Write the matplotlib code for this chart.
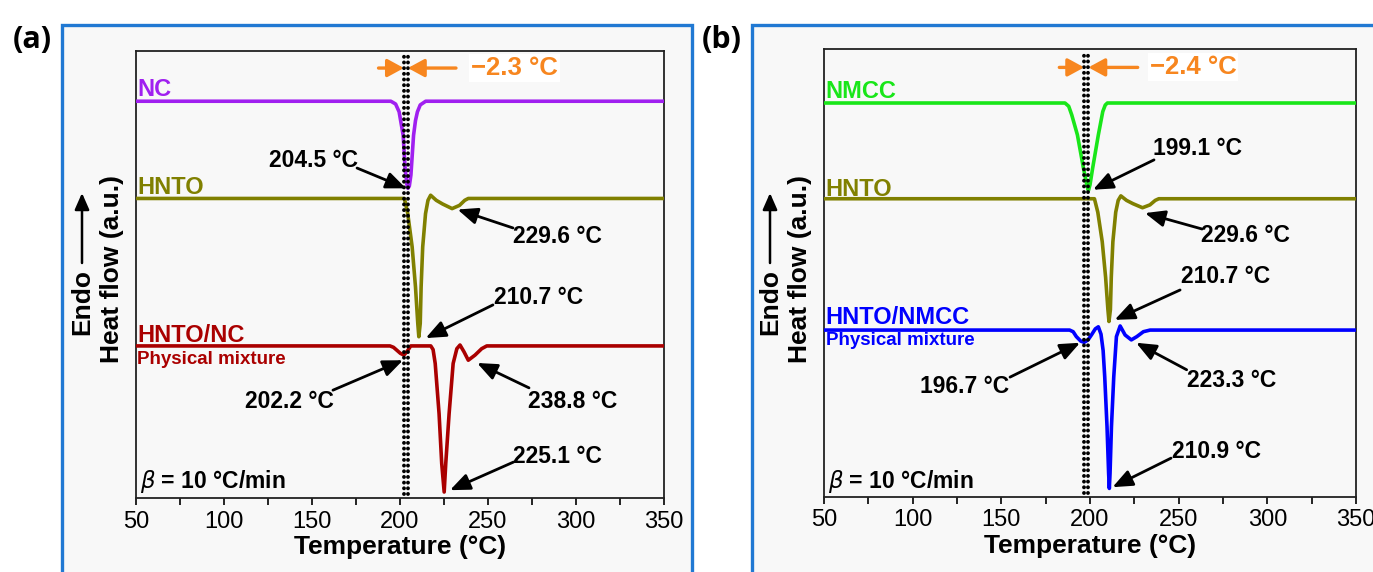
import matplotlib
matplotlib.use("Agg")
import matplotlib.pyplot as plt
from matplotlib import font_manager
from matplotlib.patches import Rectangle

# DSC traces, heat flow relative to each baseline (a.u.)
hnto_T = [50, 202.5, 204.4, 206.9, 208.8, 210.1, 210.7, 211.5, 212.0, 212.9, 214.5,
          215.9, 217.4, 220.6, 224.2, 229.6, 233.8, 236.8, 238.8, 350]
hnto_q = [0, 0, -0.33, -1.05, -1.92, -2.71, -3.0, -2.71, -1.92, -1.05, -0.33,
          -0.04, 0.07, -0.04, -0.12, -0.22, -0.15, -0.04, 0, 0]

nc_T = [50, 194.8, 197.5, 199.5, 201.8, 202.9, 203.9, 204.5, 205.3, 206.2, 206.9,
        207.7, 208.8, 209.9, 211.5, 214.6, 350]
nc_q = [0, 0, -0.06, -0.23, -0.74, -1.46, -1.80, -1.89, -1.84, -1.60, -1.20,
        -0.74, -0.42, -0.23, -0.08, 0, 0]

mix_nc_T = [50, 194.3, 196.3, 198.1, 200.2, 202.2, 204.2, 206.1, 217.5, 218.8, 220.0,
            222.2, 223.7, 225.1, 226.0, 227.9, 230.2, 232.3, 234.1, 236.4, 238.8,
            242.6, 246.4, 249.3, 350]
mix_nc_q = [0, 0, -0.03, -0.09, -0.16, -0.20, -0.11, 0, 0, -0.08, -0.38,
            -1.47, -2.55, -3.17, -2.55, -1.47, -0.38, -0.06, 0.02, -0.13, -0.31,
            -0.20, -0.06, 0, 0]

nmcc_T = [50, 185.9, 188.0, 189.7, 192.9, 196.3, 198.2, 199.1, 200.0, 201.5, 204.7,
          207.2, 208.6, 209.8, 350]
nmcc_q = [0, 0, -0.08, -0.29, -0.78, -1.59, -2.0, -2.14, -2.0, -1.59, -0.78,
          -0.21, -0.05, 0, 0]

mix_nmcc_T = [50, 188.5, 190.5, 192.3, 194.8, 196.7, 198.9, 200.8, 203.0, 204.7, 206.2,
              207.4, 208.3, 209.6, 210.5, 210.9, 211.3, 212.1, 213.4, 214.9, 217.0,
              219.8, 223.3, 226.4, 230.1, 233.9, 350]
mix_nmcc_q = [0, 0, -0.04, -0.16, -0.27, -0.30, -0.24, -0.12, 0.03, 0.08, -0.10,
              -0.5, -1.14, -2.36, -3.5, -3.87, -3.5, -2.36, -1.14, -0.16, 0.10,
              -0.12, -0.24, -0.16, -0.04, 0, 0]

# labelled peak temperatures (deg C)
peaks_a = [204.5, 229.6, 210.7, 202.2, 238.8, 225.1]
peaks_b = [199.1, 229.6, 210.7, 196.7, 223.3, 210.9]

xticks = [50, 100, 150, 200, 250, 300, 350]

purple = "#a020f0"
olive = "#808000"
darkred = "#aa0000"
green = "#19e619"
blue = "#0000ff"
orange = "#f7861f"
frame_blue = "#2179d3"

names = {f.name for f in font_manager.fontManager.ttflist}
narrow = "Liberation Sans Narrow" if "Liberation Sans Narrow" in names else "Liberation Sans"
plt.rcParams["font.family"] = ["Liberation Sans", "DejaVu Sans"]

W, H = 1373, 572
fig = plt.figure(figsize=(W / 100, H / 100), dpi=100)
fig.patch.set_facecolor("white")

# blue panel frames
for x0, x1 in [(62, 692), (752, 1390)]:
    fig.patches.append(Rectangle((x0 / W, -0.05), (x1 - x0) / W, 1.05 - 25 / H,
                                 transform=fig.transFigure, facecolor="#f8f8f8",
                                 edgecolor=frame_blue, lw=2.4, zorder=-5))

ax_a = fig.add_axes([136 / W, 1 - 498 / H, 528 / W, 447 / H])
ax_b = fig.add_axes([824 / W, 1 - 497 / H, 532 / W, 448 / H])

arrow_kw = dict(arrowstyle="-|>,head_length=0.6,head_width=0.25", lw=2.0,
                color="black", mutation_scale=20, shrinkA=0, shrinkB=0)
orange_kw = dict(arrowstyle="-|>,head_length=0.55,head_width=0.3", lw=2.4,
                 color=orange, mutation_scale=18, shrinkA=0, shrinkB=0)
note_font = dict(fontsize=16.5, fontweight="bold", ha="center", va="center")


def setup(ax, ymax):
    ax.set_xlim(50, 350)
    ax.set_ylim(0, ymax)
    ax.set_facecolor("none")
    ax.set_yticks([])
    ax.set_xticks(xticks)
    ax.set_xticks(range(75, 350, 50), minor=True)
    ax.tick_params(axis="x", which="both", direction="out", length=5, width=1.2,
                   labelsize=17, pad=4)
    for lab in ax.get_xticklabels():
        lab.set_family(narrow)
    for sp in ax.spines.values():
        sp.set_linewidth(1.3)
        sp.set_color("#222222")
    ax.set_xlabel("Temperature (\u00b0C)", fontsize=19, fontweight="bold", labelpad=2)


def dotted(ax, t):
    ax.axvline(t, ymin=0.01, ymax=0.995, color="black", lw=2.8, dashes=(0.01, 1.45),
               dash_capstyle="round", zorder=5)


def shift_marker(ax, t_lo, t_hi, y, t_left, t_right, t_text):
    ax.annotate("", xy=(t_lo, y), xytext=(t_left, y), arrowprops=orange_kw, zorder=6)
    ax.annotate("", xy=(t_hi, y), xytext=(t_right, y), arrowprops=orange_kw, zorder=6)
    ax.text(t_text, y, "\u2212" + f"{t_hi - t_lo:.1f} \u00b0C", color=orange,
            fontsize=18.5, fontweight="bold", family=narrow, ha="left", va="center",
            bbox=dict(facecolor="white", edgecolor="none", pad=1.5))


def note(ax, peak, text_xy, tail, tip):
    ax.text(text_xy[0], text_xy[1], f"{peak} \u00b0C", family=narrow, **note_font)
    ax.annotate("", xy=tip, xytext=tail, arrowprops=arrow_kw, zorder=7)


def trace(ax, T, q, base, color):
    ax.plot(T, [base + v for v in q], color=color, lw=2.6, solid_joinstyle="round",
            zorder=3)


# ---- panel (a) ----
setup(ax_a, 9.70)
trace(ax_a, nc_T, nc_q, 8.61, purple)
trace(ax_a, hnto_T, hnto_q, 6.50, olive)
trace(ax_a, mix_nc_T, mix_nc_q, 3.30, darkred)
dotted(ax_a, peaks_a[3])
dotted(ax_a, peaks_a[0])
shift_marker(ax_a, peaks_a[3], peaks_a[0], 9.33, 187.8, 231.8, 240.3)

lab = dict(fontsize=17, fontweight="bold", family=narrow, ha="left", va="baseline")
ax_a.text(50.6, 8.72, "NC", color=purple, **lab)
ax_a.text(50.6, 6.59, "HNTO", color=olive, **lab)
ax_a.text(50.6, 3.38, "HNTO/NC", color=darkred, **lab)
ax_a.text(50.6, 3.19, "Physical mixture", color=darkred, fontsize=13.5,
          fontweight="bold", family=narrow, ha="left", va="top")
ax_a.text(52.3, 0.22, r"$\beta$" + " = 10 \u00b0C/min", fontsize=16.5,
          fontweight="bold", family=narrow, ha="left", va="baseline")

note(ax_a, peaks_a[0], (150.9, 7.33), (175.6, 7.16), (203.4, 6.72))
note(ax_a, peaks_a[1], (289.2, 5.68), (264.2, 5.86), (232.7, 6.26))
note(ax_a, peaks_a[2], (279.0, 4.36), (252.8, 4.19), (214.6, 3.47))
note(ax_a, peaks_a[3], (136.9, 2.10), (161.9, 2.34), (201.7, 2.99))
note(ax_a, peaks_a[4], (298.3, 2.10), (273.3, 2.39), (243.8, 2.93))
note(ax_a, peaks_a[5], (289.2, 0.91), (264.5, 0.78), (228.4, 0.17))

# ---- panel (b) ----
setup(ax_b, 10.95)
trace(ax_b, nmcc_T, nmcc_q, 9.63, green)
trace(ax_b, hnto_T, hnto_q, 7.29, olive)
trace(ax_b, mix_nmcc_T, mix_nmcc_q, 4.08, blue)
dotted(ax_b, peaks_b[3])
dotted(ax_b, peaks_b[0])
shift_marker(ax_b, peaks_b[3], peaks_b[0], 10.50, 182.7, 226.9, 233.6)

ax_b.text(51.0, 9.75, "NMCC", color=green, **lab)
ax_b.text(51.0, 7.35, "HNTO", color=olive, **lab)
ax_b.text(51.0, 4.23, "HNTO/NMCC", color=blue, **lab)
ax_b.text(51.0, 4.03, "Physical mixture", color=blue, fontsize=13.5,
          fontweight="bold", family=narrow, ha="left", va="top")
ax_b.text(52.3, 0.22, r"$\beta$" + " = 10 \u00b0C/min", fontsize=16.5,
          fontweight="bold", family=narrow, ha="left", va="baseline")

note(ax_b, peaks_b[0], (260.4, 8.51), (236.1, 8.24), (201.7, 7.51))
note(ax_b, peaks_b[1], (287.5, 6.38), (263.2, 6.55), (231.0, 6.94))
note(ax_b, peaks_b[2], (276.2, 5.38), (250.8, 5.06), (213.9, 4.33))
note(ax_b, peaks_b[3], (129.5, 2.69), (154.9, 2.93), (194.4, 3.77))
note(ax_b, peaks_b[4], (279.6, 2.84), (254.5, 3.11), (226.0, 3.77))
note(ax_b, peaks_b[5], (271.1, 1.12), (245.7, 0.95), (212.7, 0.24))

# y labels, "Endo" arrows and panel letters
for x_ax, letter, x_let in [(136, "(a)", 32), (824, "(b)", 722)]:
    fig.text((x_ax - 24) / W, 1 - 269 / H, "Heat flow (a.u.)", rotation=90,
             fontsize=19, fontweight="bold", ha="center", va="center")
    fig.text((x_ax - 54) / W, 1 - 302 / H, "Endo", rotation=90,
             fontsize=19, fontweight="bold", ha="center", va="center")
    fig.add_artist(plt.Annotation("", xy=((x_ax - 54) / W, 1 - 193 / H),
                                  xytext=((x_ax - 54) / W, 1 - 263 / H),
                                  xycoords="figure fraction",
                                  arrowprops=dict(arrowstyle="-|>,head_length=0.5,head_width=0.22",
                                                  lw=1.8, color="black",
                                                  mutation_scale=20,
                                                  shrinkA=0, shrinkB=0)))
    fig.text(x_let / W, 1 - 40 / H, letter, fontsize=22, fontweight="bold",
             family="Open Sans", ha="center", va="center")

fig.savefig("out.png", dpi=100)
